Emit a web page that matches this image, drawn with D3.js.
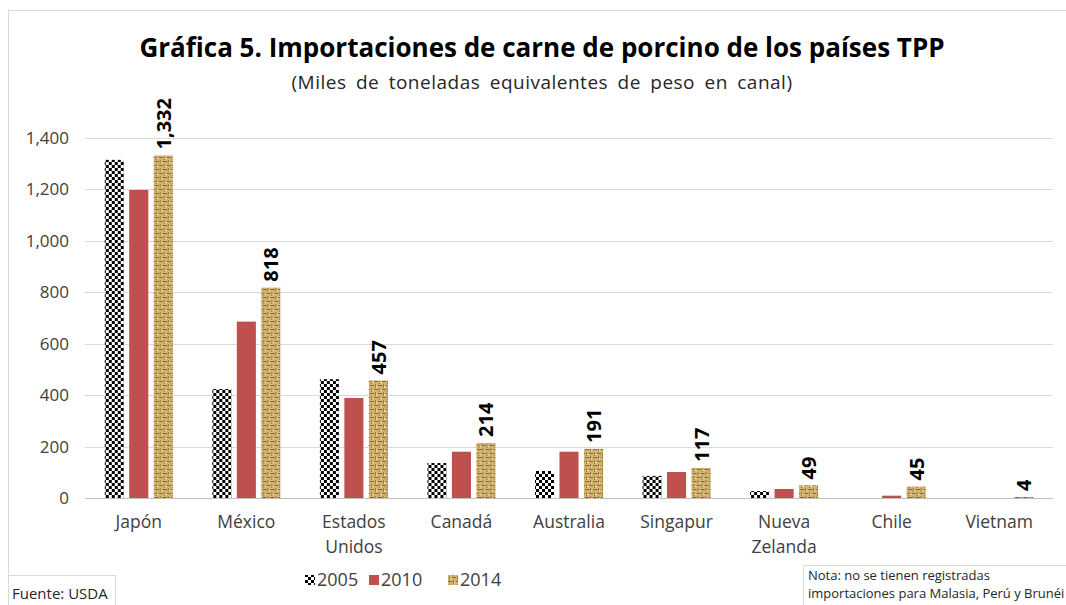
<!DOCTYPE html>
<html>
<head>
<meta charset="utf-8">
<script src="https://cdn.jsdelivr.net/npm/d3@7"></script>
<style>
  body { margin: 0; background: #fff; }
  svg { display: block; font-family: "Open Sans", "Noto Sans", sans-serif; }
</style>
</head>
<body>
<svg id="chart"></svg>
<script>
// Gráfica 5 - importaciones de carne de porcino (TPP)
const width = 1066;
const height = 605;

const countries = ["Japón", "México", "Estados Unidos", "Canadá", "Australia", "Singapur", "Nueva Zelanda", "Chile", "Vietnam"];
const years = ["2005", "2010", "2014"];
const values2005 = [1315, 424, 462, 136, 105, 86, 27, 0, 0];
const values2010 = [1198, 686, 389, 180, 180, 101, 35, 9, 0];
const values2014 = [1332, 818, 457, 214, 191, 117, 49, 45, 4];
const yTicks = [0, 200, 400, 600, 800, 1000, 1200, 1400];

const series = { "2005": values2005, "2010": values2010, "2014": values2014 };
const fills = { "2005": "url(#checker)", "2010": "#c0504d", "2014": "url(#burlap)" };

const margin = { left: 85, right: 1053, top: 138, bottom: 498 };

const svg = d3.select("#chart").attr("width", width).attr("height", height);

// patterns
const defs = svg.append("defs");
const checker = defs.append("pattern").attr("id", "checker")
    .attr("patternUnits", "userSpaceOnUse").attr("width", 6).attr("height", 6);
checker.append("rect").attr("width", 6).attr("height", 6).attr("fill", "#fff");
checker.append("rect").attr("width", 3).attr("height", 3).attr("fill", "#000");
checker.append("rect").attr("x", 3).attr("y", 3).attr("width", 3).attr("height", 3).attr("fill", "#000");

const burlap = defs.append("pattern").attr("id", "burlap")
    .attr("patternUnits", "userSpaceOnUse").attr("width", 8).attr("height", 8);
burlap.append("rect").attr("width", 8).attr("height", 8).attr("fill", "#d2b472");
burlap.append("rect").attr("x", 0).attr("y", 1).attr("width", 4).attr("height", 1).attr("fill", "#8a672a");
burlap.append("rect").attr("x", 5).attr("y", 0).attr("width", 1).attr("height", 4).attr("fill", "#96743a");
burlap.append("rect").attr("x", 4).attr("y", 5).attr("width", 4).attr("height", 1).attr("fill", "#8a672a");
burlap.append("rect").attr("x", 1).attr("y", 4).attr("width", 1).attr("height", 4).attr("fill", "#a07e3c");
burlap.append("rect").attr("x", 2).attr("y", 6).attr("width", 2).attr("height", 1).attr("fill", "#f1e0ad");
burlap.append("rect").attr("x", 6).attr("y", 2).attr("width", 1).attr("height", 2).attr("fill", "#f1e0ad");

// chart frame
svg.append("rect").attr("x", 8.5).attr("y", 10.5).attr("width", 1070).attr("height", 610)
    .attr("fill", "none").attr("stroke", "#d9d9d9");

// scales
const x0 = d3.scaleBand().domain(countries).range([margin.left, margin.right]);
const x1 = d3.scaleBand().domain(years).range([-34, 34]).paddingInner(0.22);
const y = d3.scaleLinear().domain([0, 1400]).range([margin.bottom, margin.top]);

// gridlines + y labels
const grid = svg.append("g");
grid.selectAll("line").data(yTicks).join("line")
    .attr("x1", margin.left).attr("x2", margin.right)
    .attr("y1", d => Math.round(y(d)) + 0.5).attr("y2", d => Math.round(y(d)) + 0.5)
    .attr("stroke", d => d === 0 ? "#bfbfbf" : "#d9d9d9");
grid.selectAll("text").data(yTicks).join("text")
    .attr("x", 69).attr("y", d => y(d)).attr("dy", "0.35em")
    .attr("text-anchor", "end").attr("fill", "#404040").attr("font-size", 17)
    .text(d => d3.format(",")(d));

// bars
const groups = svg.append("g").selectAll("g").data(countries).join("g")
    .attr("transform", d => `translate(${x0(d) + x0.bandwidth() / 2},0)`);

groups.selectAll("rect")
    .data((d, i) => years.map(yr => ({ year: yr, value: series[yr][i] })))
    .join("rect")
    .attr("x", d => x1(d.year))
    .attr("width", x1.bandwidth())
    .attr("y", d => y(d.value))
    .attr("height", d => y(0) - y(d.value))
    .attr("fill", d => fills[d.year]);

// data labels for 2014
groups.append("text")
    .attr("transform", (d, i) => `translate(${x1("2014") + x1.bandwidth() / 2},${y(values2014[i]) - 6}) rotate(-90)`)
    .attr("dominant-baseline", "central")
    .attr("font-size", 20).attr("font-weight", "bold").attr("fill", "#000")
    .text((d, i) => d3.format(",")(values2014[i]));

// category labels
const xl = svg.append("g").selectAll("text").data(countries).join("text")
    .attr("x", d => x0(d) + x0.bandwidth() / 2)
    .attr("y", 528)
    .attr("text-anchor", "middle").attr("fill", "#404040").attr("font-size", 17.5);
xl.each(function (d) {
    const words = d.split(" ");
    d3.select(this).selectAll("tspan").data(words).join("tspan")
        .attr("x", x0(d) + x0.bandwidth() / 2)
        .attr("dy", (w, i) => i === 0 ? 0 : 25)
        .text(w => w);
});

// title
svg.append("text").attr("x", 542).attr("y", 57).attr("text-anchor", "middle")
    .attr("font-size", 26).attr("font-weight", "bold").attr("fill", "#000")
    .text("Gráfica 5. Importaciones de carne de porcino de los países TPP");
svg.append("text").attr("x", 542).attr("y", 89).attr("text-anchor", "middle")
    .attr("font-size", 19).attr("letter-spacing", 0.5).attr("word-spacing", 4).attr("fill", "#262626")
    .text("(Miles de toneladas equivalentes de peso en canal)");

// legend
const legendX = [305, 369, 448];
const legend = svg.append("g").selectAll("g").data(years).join("g")
    .attr("transform", (d, i) => `translate(${legendX[i]},580)`);
legend.append("rect").attr("x", 0).attr("y", -5).attr("width", 10).attr("height", 10)
    .attr("fill", d => fills[d]);
legend.append("text").attr("x", 12).attr("dy", "0.35em").attr("font-size", 18)
    .attr("fill", "#404040").text(d => d);

// footer boxes
svg.append("rect").attr("x", 8.5).attr("y", 575.5).attr("width", 107).attr("height", 40)
    .attr("fill", "#fff").attr("stroke", "#d9d9d9");
svg.append("text").attr("x", 12).attr("y", 599).attr("font-size", 15).attr("fill", "#262626")
    .text("Fuente: USDA");

svg.append("rect").attr("x", 803.5).attr("y", 565.5).attr("width", 280).attr("height", 50)
    .attr("fill", "#fff").attr("stroke", "#d9d9d9");
svg.append("text").attr("x", 808).attr("y", 580).attr("font-size", 13).attr("fill", "#262626")
    .text("Nota: no se tienen registradas");
svg.append("text").attr("x", 808).attr("y", 598).attr("font-size", 13).attr("fill", "#262626")
    .text("importaciones para Malasia, Perú y Brunéi");
</script>
</body>
</html>
